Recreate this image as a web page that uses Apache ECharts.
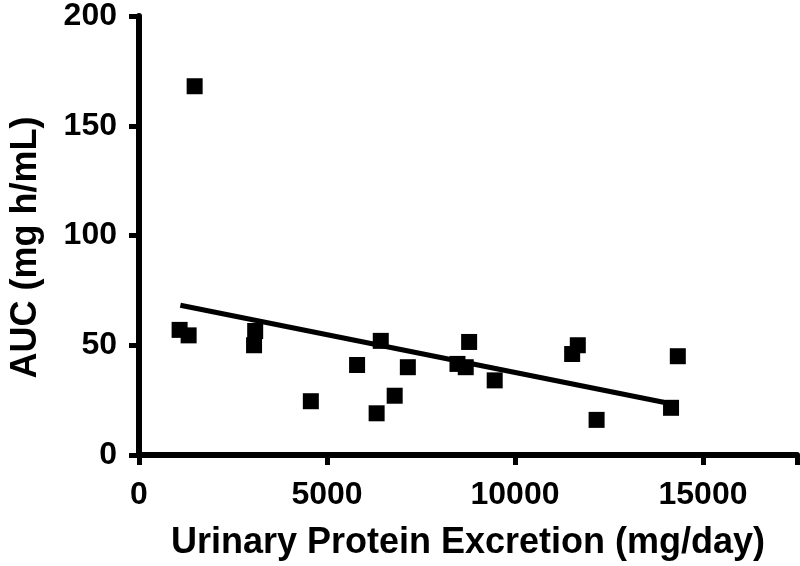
<!DOCTYPE html>
<html>
<head>
<meta charset="utf-8">
<script src="https://cdn.jsdelivr.net/npm/echarts@6/dist/echarts.min.js"></script>
<style>html,body{margin:0;padding:0;background:#fff}#c{width:800px;height:566px}</style>
</head>
<body>
<div id="c"></div>
<script>
// Data
const proteinX = [1080, 1320, 1480, 3090, 3060, 4570, 5800, 6430, 6320, 6800, 7150, 8780, 8470, 8690, 9460, 11670, 11520, 12170, 14150, 14330];
const aucY     = [57, 54.5, 168, 56.5, 50, 24.5, 41, 52, 19, 27, 40, 51.5, 41.5, 40, 34, 50, 46, 16, 21.5, 45];
const fitX = [1100, 13950];
const fitY = [68.2, 24.0];
const xTicks = [0, 5000, 10000, 15000];
const yTicks = [0, 50, 100, 150, 200];

const points = proteinX.map((x, i) => [x, aucY[i]]);
const fit = fitX.map((x, i) => [x, fitY[i]]);
const font = 'Liberation Sans, Arial, sans-serif';

const chart = echarts.init(document.getElementById('c'));
chart.setOption({
  animation: false,
  grid: { left: 133, right: 2, top: 13.3, bottom: 109.5, containLabel: false },
  xAxis: {
    type: 'value', min: 0, max: 17500, interval: 5000,
    name: 'Urinary Protein Excretion (mg/day)', nameLocation: 'middle', nameGap: 70,
    nameTextStyle: { fontFamily: font, fontWeight: 'bold', fontSize: 36, color: '#000' },
    axisLine: { onZero: false, lineStyle: { color: '#000', width: 6 } },
    axisTick: { show: true, length: 10, lineStyle: { color: '#000', width: 5 } },
    axisLabel: { fontFamily: font, fontWeight: 'bold', fontSize: 32, color: '#000', margin: 24,
      formatter: v => xTicks.includes(v) ? String(v) : '' },
    splitLine: { show: false }
  },
  yAxis: {
    type: 'value', min: 0, max: 200, interval: 50,
    name: 'AUC (mg h/mL)', nameLocation: 'middle', nameGap: 95,
    nameTextStyle: { fontFamily: font, fontWeight: 'bold', fontSize: 36, color: '#000', padding: [0, 24, 0, 0] },
    axisLine: { show: true, lineStyle: { color: '#000', width: 6 } },
    axisTick: { show: true, length: 10, lineStyle: { color: '#000', width: 5 } },
    axisLabel: { fontFamily: font, fontWeight: 'bold', fontSize: 32, color: '#000', margin: 22,
      formatter: v => yTicks.includes(v) ? String(v) : '' },
    splitLine: { show: false }
  },
  series: [
    { type: 'line', data: fit, showSymbol: false, symbol: 'none',
      lineStyle: { color: '#000', width: 5 }, z: 2 },
    { type: 'scatter', data: points, symbol: 'rect', symbolSize: 16,
      itemStyle: { color: '#000', opacity: 1 }, z: 3 }
  ]
});
</script>
</body>
</html>
